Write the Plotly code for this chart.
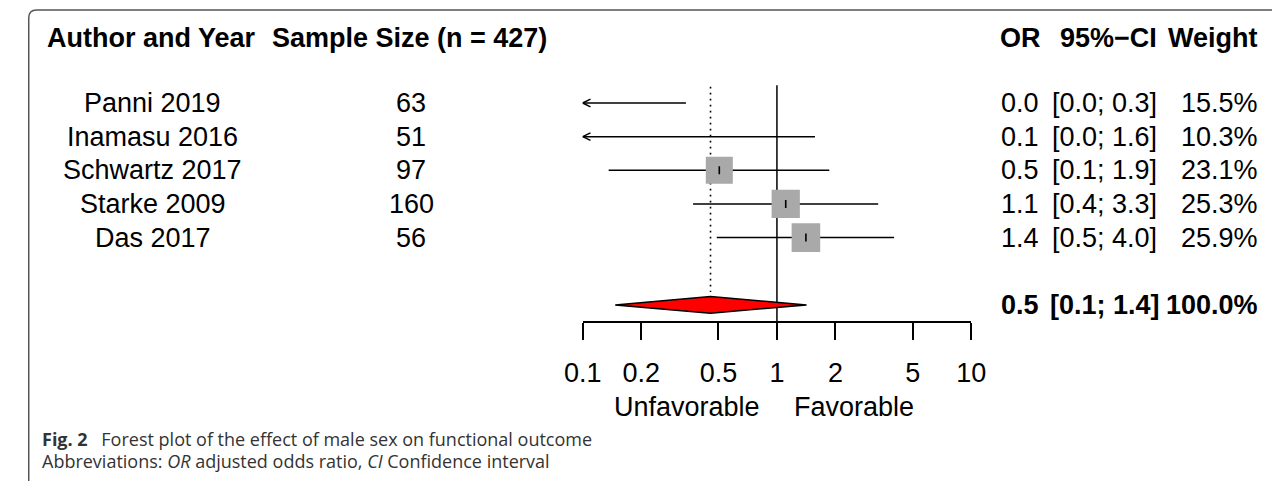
import math
import plotly.graph_objects as go

# ---------------- data ----------------
studies = ["Panni 2019", "Inamasu 2016", "Schwartz 2017", "Starke 2009", "Das 2017"]
sample_n = [63, 51, 97, 160, 56]
or_est = [0.04, 0.08, 0.505, 1.11, 1.41]
ci_low = [0.004, 0.004, 0.136, 0.37, 0.49]
ci_high = [0.34, 1.57, 1.86, 3.32, 4.01]
weights = [15.5, 10.3, 23.1, 25.3, 25.9]
pooled_or = 0.455
pooled_low = 0.147
pooled_high = 1.42
pooled_weight = 100.0
total_n = 427
tick_vals = [0.1, 0.2, 0.5, 1, 2, 5, 10]
tick_text = ["0.1", "0.2", "0.5", "1", "2", "5", "10"]

# ---------------- geometry ----------------
W, H = 1287, 481
FONT = "Liberation Sans"
FS = 27
rows = [1, 2, 3, 4, 5]
pooled_row = 7
XMIN, XMAX = 0.1, 10
PX_PER_DEC = (978 - 579) / 2.0
PX_PER_ROW = 33.65


def px(x):
    return x / W


def py(y):
    return 1 - y / H


fig = go.Figure()

# reference lines
fig.add_trace(go.Scatter(x=[1, 1], y=[0.47, 8.01], mode="lines",
                         line=dict(color="black", width=1.5), hoverinfo="skip"))
fig.add_trace(go.Scatter(x=[pooled_or, pooled_or], y=[0.52, 6.62], mode="lines",
                         line=dict(color="black", width=1.6, dash="1.6px,4.4px"), hoverinfo="skip"))

# confidence intervals
for r, lo, hi in zip(rows, ci_low, ci_high):
    fig.add_trace(go.Scatter(x=[lo, hi], y=[r, r], mode="lines",
                             line=dict(color="black", width=1.5), hoverinfo="skip"))
    if lo < XMIN:
        dx = 10 ** (8 / PX_PER_DEC)
        dy = 3.8 / PX_PER_ROW
        fig.add_trace(go.Scatter(x=[XMIN * dx, XMIN, XMIN * dx], y=[r - dy, r, r + dy],
                                 mode="lines", line=dict(color="black", width=1.5),
                                 hoverinfo="skip"))

# squares (size ~ sqrt(weight))
sizes = [5.62 * w ** 0.5 for w in weights]
fig.add_trace(go.Scatter(x=or_est, y=rows, mode="markers",
                         marker=dict(symbol="square", size=sizes, color="#A9A9A9", opacity=1,
                                     line=dict(width=0)), hoverinfo="skip"))
fig.add_trace(go.Scatter(x=or_est, y=rows, mode="markers",
                         marker=dict(symbol="line-ns", size=5.7,
                                     line=dict(width=1.6, color="black")), hoverinfo="skip"))

# pooled diamond
hh = 8.3 / PX_PER_ROW
fig.add_trace(go.Scatter(x=[pooled_low, pooled_or, pooled_high, pooled_or, pooled_low],
                         y=[pooled_row, pooled_row - hh, pooled_row, pooled_row + hh, pooled_row],
                         mode="lines", fill="toself", fillcolor="#FF0000",
                         line=dict(color="black", width=1.5), hoverinfo="skip"))

ann = []


def txt(x, y, s, anchor="center", bold=False, yref="y", size=FS, family=FONT, color="black"):
    ann.append(dict(x=x, y=y, xref="paper", yref=yref, text=("<b>%s</b>" % s) if bold else s,
                    showarrow=False, xanchor=anchor, yanchor="middle",
                    font=dict(family=family, size=size, color=color)))


# headers
hy = py(37.5)
txt(px(136.5), hy, "Author and Year", bold=True, yref="paper")
txt(px(401), hy, "Sample Size (n = %d)" % total_n, bold=True, yref="paper")
txt(px(1029), hy, "OR", bold=True, yref="paper")
txt(px(1119), hy, "95%\u2212CI", bold=True, yref="paper")
txt(px(1275), hy, "Weight", anchor="right", bold=True, yref="paper")

# study rows
for r, s, n, e, lo, hi, w in zip(rows, studies, sample_n, or_est, ci_low, ci_high, weights):
    txt(px(137.5), r, s)
    txt(px(403), r, str(n))
    txt(px(1050), r, "%.1f" % e, anchor="right")
    txt(px(1059), r, "[%.1f; %.1f]" % (lo, hi), anchor="left")
    txt(px(1275), r, "%.1f%%" % w, anchor="right")

# pooled row
txt(px(1050), pooled_row, "%.1f" % pooled_or, anchor="right", bold=True)
txt(px(1057), pooled_row, "[%.1f; %.1f]" % (pooled_low, pooled_high), anchor="left", bold=True)
txt(px(1275), pooled_row, "%.1f%%" % pooled_weight, anchor="right", bold=True)

# favour labels (log axis: annotation x is given in log10 units)
for s, anch, shift in [("Unfavorable", "right", -15), ("Favorable", "left", 15)]:
    ann.append(dict(x=math.log10(1), y=py(407), xref="x", yref="paper", text=s, showarrow=False,
                    xanchor=anch, yanchor="middle", xshift=shift,
                    font=dict(family=FONT, size=FS, color="black")))

# caption
txt(px(22), py(439), "<b>Fig. 2</b>\u2002 Forest plot of the effect of male sex on functional outcome",
    anchor="left", yref="paper", size=18, family="Open Sans", color="#333333")
txt(px(22), py(461), "Abbreviations: <i>OR</i> adjusted odds ratio, <i>CI</i> Confidence interval",
    anchor="left", yref="paper", size=18, family="Open Sans", color="#333333")

# frame (rounded top-left corner)
x0, y0, rr = 10, 10, 8
frame = "M %f,%f L %f,%f Q %f,%f %f,%f L %f,%f" % (
    px(x0), py(H), px(x0), py(y0 + rr), px(x0), py(y0), px(x0 + rr), py(y0), px(W), py(y0))

fig.update_layout(
    width=W, height=H, autosize=False, margin=dict(l=0, r=0, t=0, b=0, pad=0),
    paper_bgcolor="white", plot_bgcolor="rgba(0,0,0,0)", showlegend=False,
    annotations=ann,
    shapes=[dict(type="path", path=frame, xref="paper", yref="paper",
                 line=dict(color="#555555", width=1.5))],
    xaxis=dict(type="log", range=[-1, 1], domain=[px(579), px(978)], anchor="free",
               position=py(322), side="bottom", showline=True, linecolor="black", linewidth=1.5,
               ticks="outside", ticklen=17, tickwidth=1.5, tickcolor="black",
               tickvals=tick_vals, ticktext=tick_text, showgrid=False, zeroline=False,
               tickfont=dict(family=FONT, size=FS, color="black"), ticklabelstandoff=10),
    yaxis=dict(range=[1 + (H - 103) / PX_PER_ROW, 1 - 103 / PX_PER_ROW], domain=[0, 1],
               visible=False, showgrid=False, zeroline=False),
)

fig.write_html("out.html", config={"displayModeBar": False, "responsive": False},
               post_script="document.body.style.margin='0';document.body.style.overflow='hidden';")
